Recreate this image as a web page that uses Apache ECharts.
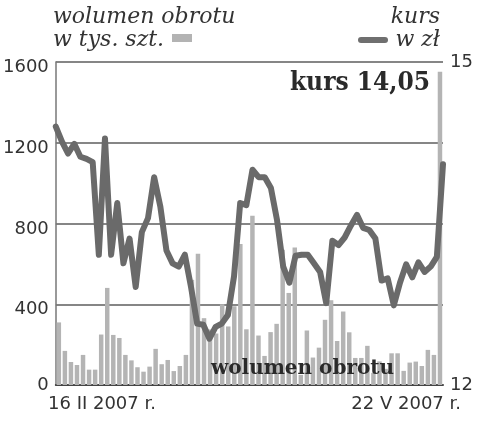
<!DOCTYPE html>
<html>
<head>
<meta charset="utf-8">
<script src="https://cdn.jsdelivr.net/npm/echarts@6/dist/echarts.min.js"></script>
<style>
html,body{margin:0;padding:0;background:#fff;}
#c{width:500px;height:430px;}
</style>
</head>
<body>
<div id="c"></div>
<script>
// ---- data ----
const xTickLabels = ['16 II 2007 r.', '22 V 2007 r.'];
const volume = [310,169,114,99,149,76,76,250,481,248,
  233,149,122,88,66,91,179,103,124,69,
  94,149,521,650,331,275,255,400,290,390,
  698,276,839,245,144,262,303,670,456,681,
  50,270,136,185,323,420,218,364,261,134,
  134,194,60,117,80,157,157,70,111,116,
  94,174,149,1552];
const price = [14.40,14.26,14.15,14.24,14.12,14.10,14.07,13.21,14.29,13.21,
  13.69,13.13,13.36,12.91,13.42,13.55,13.93,13.66,13.25,13.13,
  13.10,13.21,12.91,12.57,12.56,12.43,12.54,12.57,12.65,13.01,
  13.69,13.67,14.00,13.93,13.93,13.83,13.53,13.10,12.95,13.20,
  13.21,13.21,13.13,13.05,12.76,13.34,13.30,13.37,13.48,13.58,
  13.46,13.44,13.36,12.97,12.99,12.74,12.95,13.12,13.00,13.14,
  13.05,13.10,13.19,14.05];
const volumeTicks = [0, 400, 800, 1200, 1600];
const priceTicks = [12, 15];
const volLegend = ['wolumen obrotu', 'w tys. szt.'];
const priceLegend = ['kurs', 'w zł'];
const lastPriceLabel = 'kurs 14,05';
const barsLabel = 'wolumen obrotu';

// ---- chart ----
const cats = volume.map((v, i) => String(i));
const chart = echarts.init(document.getElementById('c'), null, {renderer: 'canvas'});
const tickFont = {fontFamily: 'DejaVu Sans', fontSize: 18, color: '#333'};

chart.setOption({
  animation: false,
  backgroundColor: '#fff',
  grid: {left: 53, right: 57, top: 62, bottom: 45, containLabel: false},
  xAxis: [
    {type: 'category', data: cats, boundaryGap: true,
     axisLine: {show: true, lineStyle: {color: '#444', width: 2}},
     axisTick: {show: false}, axisLabel: {show: false}, splitLine: {show: false}},
    {type: 'category', data: cats, boundaryGap: false, show: false}
  ],
  yAxis: [
    {type: 'value', min: volumeTicks[0], max: volumeTicks[volumeTicks.length - 1], interval: 400,
     axisLine: {show: true, lineStyle: {color: '#777', width: 1.5}},
     axisTick: {show: false},
     splitLine: {show: true, lineStyle: {color: '#5e5e5e', width: 1.5}},
     axisLabel: Object.assign({margin: 7,
       formatter: v => v === 0 ? '{z|0}' : '{n|' + v + '}',
       rich: {n: Object.assign({padding: [11, 0, 0, 0]}, tickFont), z: Object.assign({padding: [0, 0, 0, 0]}, tickFont)}
     }, tickFont)},
    {type: 'value', min: priceTicks[0], max: priceTicks[1], interval: 3,
     axisLine: {show: false}, axisTick: {show: false}, splitLine: {show: false},
     axisLabel: Object.assign({margin: 7}, tickFont)}
  ],
  series: [
    {type: 'bar', data: volume, xAxisIndex: 0, yAxisIndex: 0, barWidth: '74%',
     itemStyle: {color: '#b4b4b4'}, z: 2},
    {type: 'line', data: price, xAxisIndex: 1, yAxisIndex: 1, showSymbol: false, symbol: 'none',
     lineStyle: {color: '#6a6a6a', width: 6, cap: 'round', join: 'round'}, z: 3}
  ],
  graphic: [
    {type: 'text', left: 53, top: 6, z: 10,
     style: {text: volLegend[0], font: 'italic 22px "DejaVu Serif"', fill: '#333'}},
    {type: 'text', left: 53, top: 29, z: 10,
     style: {text: volLegend[1], font: 'italic 22px "DejaVu Serif"', fill: '#333'}},
    {type: 'rect', shape: {x: 172, y: 34, width: 20, height: 8}, z: 10,
     style: {fill: '#b3b3b3'}},
    {type: 'text', right: 60, top: 6, z: 10,
     style: {text: priceLegend[0], font: 'italic 22px "DejaVu Serif"', fill: '#333'}},
    {type: 'text', right: 60, top: 29, z: 10,
     style: {text: priceLegend[1], font: 'italic 22px "DejaVu Serif"', fill: '#333'}},
    {type: 'line', shape: {x1: 361, y1: 40, x2: 385, y2: 40}, z: 10,
     style: {stroke: '#6f6f6f', lineWidth: 6, lineCap: 'round'}},
    {type: 'text', right: 70, top: 70, z: 10,
     style: {text: lastPriceLabel, font: 'bold 26px "DejaVu Serif Condensed"', fill: '#2a2a2a'}},
    {type: 'text', left: 211, top: 359, z: 10,
     style: {text: barsLabel, font: 'bold 20px "DejaVu Serif"', fill: '#2a2a2a'}},
    {type: 'text', left: 48, top: 395, z: 10,
     style: {text: xTickLabels[0], font: '18px "DejaVu Sans"', fill: '#333'}},
    {type: 'text', right: 39, top: 395, z: 10,
     style: {text: xTickLabels[1], font: '18px "DejaVu Sans"', fill: '#333'}}
  ]
});
</script>
</body>
</html>
